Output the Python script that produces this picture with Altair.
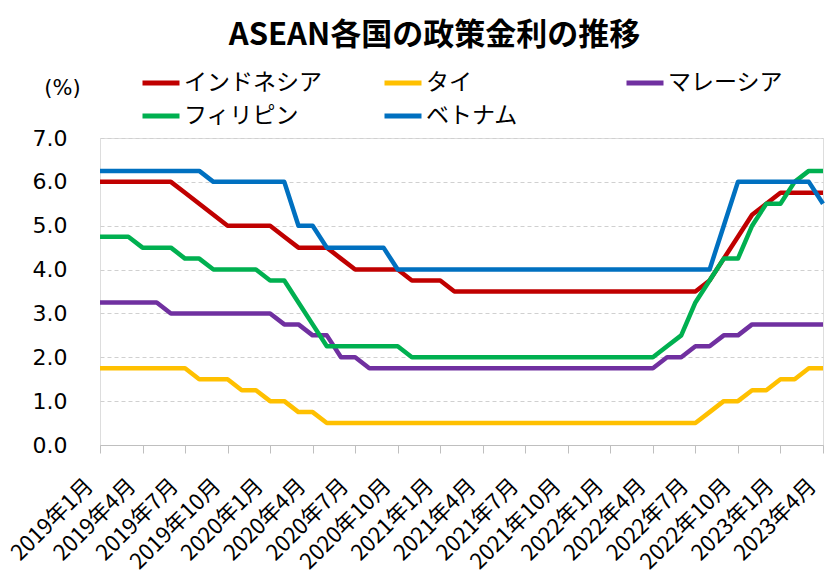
import altair as alt
import pandas as pd

# Monthly observations, January 2019 to April 2023
months = [f"{y}年{m}月" for y in range(2019, 2024) for m in range(1, 13)][:52]
tick_months = months[::3]

countries = ["インドネシア", "タイ", "マレーシア", "フィリピン", "ベトナム"]
colors = ["#C00000", "#FFC000", "#7030A0", "#00B050", "#0070C0"]

indonesia = [
    6.00, 6.00, 6.00, 6.00, 6.00, 6.00, 5.75, 5.50, 5.25, 5.00, 5.00, 5.00,
    5.00, 4.75, 4.50, 4.50, 4.50, 4.25, 4.00, 4.00, 4.00, 4.00, 3.75, 3.75,
    3.75, 3.50, 3.50, 3.50, 3.50, 3.50, 3.50, 3.50, 3.50, 3.50, 3.50, 3.50,
    3.50, 3.50, 3.50, 3.50, 3.50, 3.50, 3.50, 3.75, 4.25, 4.75, 5.25, 5.50,
    5.75, 5.75, 5.75, 5.75,
]
thailand = [
    1.75, 1.75, 1.75, 1.75, 1.75, 1.75, 1.75, 1.50, 1.50, 1.50, 1.25, 1.25,
    1.00, 1.00, 0.75, 0.75, 0.50, 0.50, 0.50, 0.50, 0.50, 0.50, 0.50, 0.50,
    0.50, 0.50, 0.50, 0.50, 0.50, 0.50, 0.50, 0.50, 0.50, 0.50, 0.50, 0.50,
    0.50, 0.50, 0.50, 0.50, 0.50, 0.50, 0.50, 0.75, 1.00, 1.00, 1.25, 1.25,
    1.50, 1.50, 1.75, 1.75,
]
malaysia = [
    3.25, 3.25, 3.25, 3.25, 3.25, 3.00, 3.00, 3.00, 3.00, 3.00, 3.00, 3.00,
    3.00, 2.75, 2.75, 2.50, 2.50, 2.00, 2.00, 1.75, 1.75, 1.75, 1.75, 1.75,
    1.75, 1.75, 1.75, 1.75, 1.75, 1.75, 1.75, 1.75, 1.75, 1.75, 1.75, 1.75,
    1.75, 1.75, 1.75, 1.75, 2.00, 2.00, 2.25, 2.25, 2.50, 2.50, 2.75, 2.75,
    2.75, 2.75, 2.75, 2.75,
]
philippines = [
    4.75, 4.75, 4.75, 4.50, 4.50, 4.50, 4.25, 4.25, 4.00, 4.00, 4.00, 4.00,
    3.75, 3.75, 3.25, 2.75, 2.25, 2.25, 2.25, 2.25, 2.25, 2.25, 2.00, 2.00,
    2.00, 2.00, 2.00, 2.00, 2.00, 2.00, 2.00, 2.00, 2.00, 2.00, 2.00, 2.00,
    2.00, 2.00, 2.00, 2.00, 2.25, 2.50, 3.25, 3.75, 4.25, 4.25, 5.00, 5.50,
    5.50, 6.00, 6.25, 6.25,
]
vietnam = [
    6.25, 6.25, 6.25, 6.25, 6.25, 6.25, 6.25, 6.25, 6.00, 6.00, 6.00, 6.00,
    6.00, 6.00, 5.00, 5.00, 4.50, 4.50, 4.50, 4.50, 4.50, 4.00, 4.00, 4.00,
    4.00, 4.00, 4.00, 4.00, 4.00, 4.00, 4.00, 4.00, 4.00, 4.00, 4.00, 4.00,
    4.00, 4.00, 4.00, 4.00, 4.00, 4.00, 4.00, 4.00, 5.00, 6.00, 6.00, 6.00,
    6.00, 6.00, 6.00, 5.50,
]

series = [indonesia, thailand, malaysia, philippines, vietnam]
rows = []
for name, values in zip(countries, series):
    for month, v in zip(months, values):
        rows.append({"month": month, "country": name, "rate": v})
df = pd.DataFrame(rows)

JP_FONT = "Noto Sans CJK JP"

chart = (
    alt.Chart(df)
    .mark_line(strokeWidth=4.5, strokeJoin="round")
    .encode(
        x=alt.X(
            "month:O",
            sort=months,
            scale=alt.Scale(type="point", padding=0),
            axis=alt.Axis(
                values=tick_months,
                title=None,
                labelAngle=-45,
                labelFont=JP_FONT,
                labelFontSize=22,
                labelColor="#000000",
                labelOverlap=False,
                labelPadding=22,
                labelOffset=-18,
                domainColor="#BFBFBF",
                tickColor="#BFBFBF",
                tickSize=8,
                grid=False,
            ),
        ),
        y=alt.Y(
            "rate:Q",
            scale=alt.Scale(domain=[0, 7], nice=False),
            axis=alt.Axis(
                values=[0, 1, 2, 3, 4, 5, 6, 7],
                format=".1f",
                title="(%)",
                titleAngle=0,
                titleFont="DejaVu Sans",
                titleFontSize=21,
                titleFontWeight="normal",
                titleColor="#000000",
                titleAlign="center",
                titleBaseline="middle",
                titleX=-38,
                titleY=-50,
                labelFont="DejaVu Sans",
                labelFontSize=22,
                labelColor="#000000",
                labelPadding=33,
                domain=False,
                ticks=False,
                gridColor="#D0D0D0",
                gridDash=[4, 3],
                gridWidth=1,
            ),
        ),
        color=alt.Color(
            "country:N",
            sort=countries,
            scale=alt.Scale(domain=countries, range=colors),
            legend=alt.Legend(
                title=None,
                orient="none",
                legendX=40,
                legendY=-76,
                direction="horizontal",
                columns=3,
                gridAlign="all",
                columnPadding=52,
                rowPadding=-2,
                symbolType="stroke",
                symbolSize=1369,
                symbolStrokeWidth=5,
                labelFont=JP_FONT,
                labelFontSize=23,
                labelColor="#000000",
                labelOffset=2,
                labelLimit=0,
            ),
        ),
    )
    .properties(
        width=723,
        height=307,
        title=alt.TitleParams(
            "ASEAN各国の政策金利の推移",
            font=JP_FONT,
            fontSize=31,
            fontWeight="bold",
            color="#000000",
            anchor="middle",
            frame="group",
            offset=10,
            dx=-27,
        ),
        autosize=alt.AutoSizeParams(type="none"),
        padding={"left": 100, "top": 138, "right": 4, "bottom": 137},
    )
    .configure_view(stroke=None)
    .configure(background="#FFFFFF")
)

chart.save("out.html", embed_options={"renderer": "svg", "actions": False})
